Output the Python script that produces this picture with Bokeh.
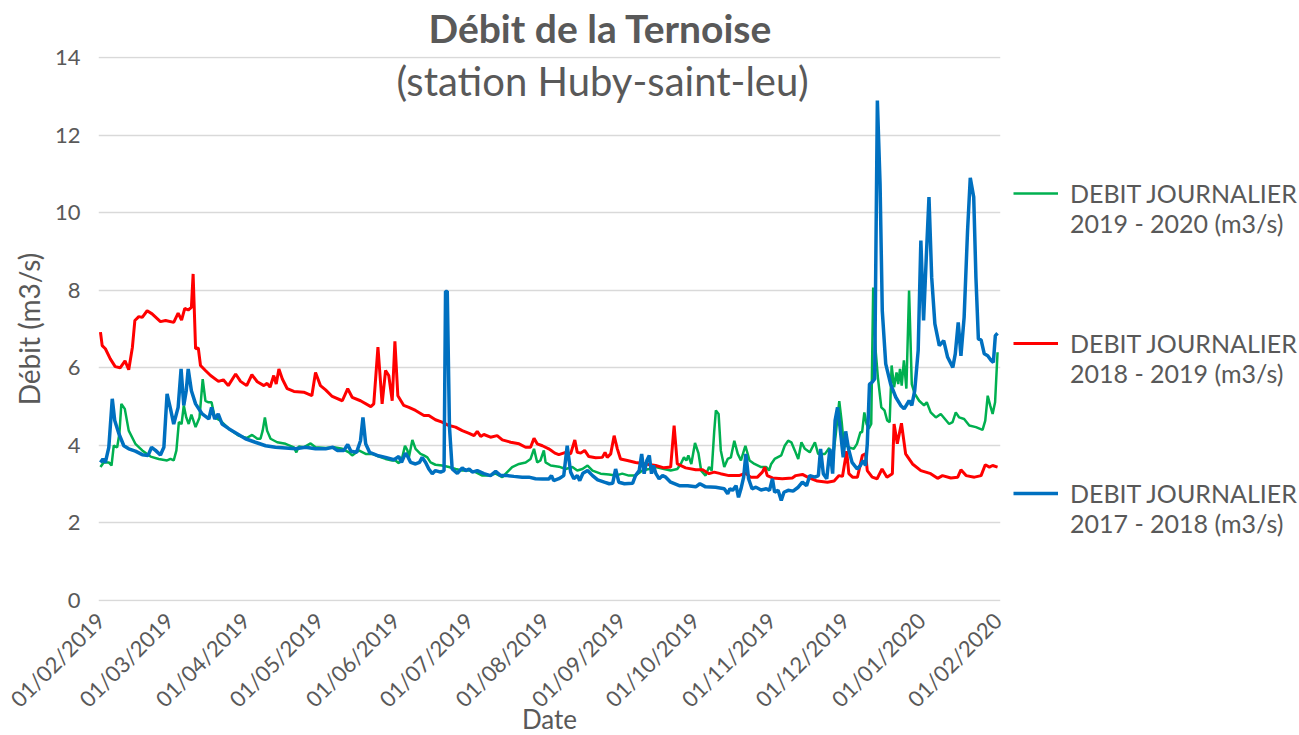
import numpy as np
import pandas as pd
from bokeh.plotting import figure
from bokeh.models import (Range1d, FixedTicker, DatetimeTickFormatter, Label,
                          Legend, LegendItem)
from bokeh.embed import file_html
from bokeh.resources import INLINE

START = pd.Timestamp("2019-02-01")

tick_dates = ["2019-02-01", "2019-03-01", "2019-04-01", "2019-05-01", "2019-06-01",
              "2019-07-01", "2019-08-01", "2019-09-01", "2019-10-01", "2019-11-01",
              "2019-12-01", "2020-01-01", "2020-02-01"]
y_ticks = [0, 2, 4, 6, 8, 10, 12, 14]

# day offsets from 01/02 and flows (m3/s)
red_days = [0, 0.7, 2, 4, 6, 8, 10, 11.5, 13, 14, 15.6, 17, 19, 21, 24.4, 26.5, 29.8, 31.6, 33, 34.3,
            35.7, 37, 37.7, 38.7, 39.8, 40.7, 42.7, 44.8, 48, 50, 52, 55, 57, 59.5, 61.6, 63.8, 66.5,
            67.8, 69, 70.5, 71.5, 72.6, 74, 76, 78.7, 82.7, 86, 87.5, 89.5, 91.6, 94.3, 98.4, 100.6,
            102.4, 105.8, 110, 111.2, 112.9, 114.6, 116, 117.3, 118.7, 119.8, 121, 123.4, 125.5, 128.2,
            131.6, 133.6, 136.3, 139, 141.8, 144.5, 147.2, 150, 152, 153.3, 154.7, 156, 158.7, 161.4,
            163.5, 166.9, 170.3, 173, 175, 176.4, 177.7, 179.8, 182.4, 184.9, 186.5, 189.3, 191.3, 193,
            194, 195.4, 197, 198.7, 201.5, 204.2, 205.3, 206.2, 207.6, 209, 210.3, 211.6, 214.4, 217.7,
            221.8, 225.9, 229.3, 232, 233.4, 234.7, 238.1, 242.2, 245, 247.6, 249.7, 252.3, 255.7,
            259.8, 262.5, 264.5, 267.3, 269.3, 270.3, 271.3, 273.4, 277.4, 281.5, 282.9, 285.6, 288.3,
            291.7, 295.8, 298.5, 300.5, 301.9, 303.6, 304.5, 306, 308, 310, 311.3, 312, 314, 316, 318,
            320, 322.2, 322.9, 324.2, 325.9, 327.6, 330.4, 333.8, 337.8, 340.6, 342.6, 346, 348.8,
            350.1, 352.2, 355.6, 358.3, 360, 361.7, 363, 365]
red_vals = [6.92, 6.57, 6.49, 6.23, 6.03, 6.0, 6.18, 5.95, 6.53, 7.22, 7.32, 7.3, 7.47, 7.39, 7.19,
            7.22, 7.17, 7.41, 7.23, 7.53, 7.49, 7.56, 8.42, 6.49, 6.51, 6.06, 5.93, 5.8, 5.65, 5.69,
            5.54, 5.84, 5.65, 5.54, 5.82, 5.64, 5.54, 5.6, 5.5, 5.8, 5.58, 5.97, 5.71, 5.46, 5.39,
            5.37, 5.28, 5.88, 5.54, 5.43, 5.26, 5.15, 5.46, 5.24, 5.15, 5.0, 5.07, 6.53, 5.07, 5.93,
            5.8, 5.15, 6.68, 5.28, 5.03, 4.98, 4.9, 4.77, 4.77, 4.66, 4.6, 4.51, 4.47, 4.38, 4.31,
            4.25, 4.36, 4.23, 4.28, 4.21, 4.25, 4.14, 4.08, 4.04, 3.95, 3.95, 4.18, 4.04, 3.99, 3.91,
            3.8, 3.76, 3.82, 3.78, 4.14, 3.82, 3.8, 3.87, 3.71, 3.68, 3.69, 3.82, 3.69, 3.78, 4.25,
            3.91, 3.65, 3.61, 3.56, 3.52, 3.48, 3.42, 3.44, 4.51, 3.52, 3.42, 3.37, 3.37, 3.27, 3.31,
            3.27, 3.22, 3.22, 3.28, 3.18, 3.18, 3.31, 3.44, 3.22, 3.16, 3.14, 3.16, 3.22, 3.25, 3.16,
            3.08, 3.05, 3.08, 3.22, 3.2, 3.85, 3.27, 3.18, 3.18, 3.74, 3.78, 3.35, 3.18, 3.14, 3.39,
            3.18, 3.27, 4.55, 4.04, 4.57, 3.78, 3.52, 3.35, 3.27, 3.15, 3.22, 3.16, 3.18, 3.37, 3.22,
            3.18, 3.22, 3.5, 3.44, 3.48, 3.44]

green_days = [0, 1.3, 3.4, 4.5, 5.4, 6.8, 7.7, 8.5, 9.9, 11.5, 14.2, 17, 20.4, 23.7, 27.1, 28.5, 29.8,
              30.9, 31.9, 33, 33.9, 34.9, 35.9, 37, 38.7, 40.3, 41.6, 42.7, 44, 45.2, 46.5, 48.8, 52.2,
              56.3, 59.5, 61.7, 63.8, 65.1, 66, 66.9, 67.8, 69.2, 71.9, 75.3, 78.7, 79.7, 80.7, 82.7,
              85.5, 87.5, 91.6, 95, 98.4, 101.1, 102.4, 105.1, 107.9, 110.6, 113.3, 116, 118.7, 120,
              121.4, 122.8, 123.9, 124.9, 125.5, 126.9, 128.2, 130.2, 131.6, 133, 134.3, 136.3, 139,
              141.8, 144.5, 147.2, 150, 152.6, 155.4, 158, 160.8, 163.5, 165.5, 167.5, 170.3, 173,
              175, 176.4, 177.7, 179, 180.4, 181.1, 183.2, 186.5, 189.3, 192, 194, 196.1, 198.2,
              200.2, 203.5, 206.9, 209.6, 212.3, 215, 217.7, 220.5, 223.2, 225.9, 229.3, 232, 234.7,
              236.1, 237.4, 238.4, 239.2, 240.4, 241.9, 243.3, 244.4, 246.2, 247.6, 248.7, 249.7,
              250.4, 251.5, 252.4, 253.8, 255.2, 256.5, 257.9, 259.3, 260.6, 262.4, 264.1, 266.1,
              268.8, 270.9, 272, 272.9, 274.3, 277, 278.4, 279.8, 281.1, 282.5, 283.9, 285.2, 286.6,
              288.6, 290.7, 292, 294.8, 296.5, 297.9, 299.2, 300.6, 301.6, 302.4, 304.4, 306.5,
              307.8, 309.2, 309.9, 310.8, 311.7, 312.6, 313.6, 314.4, 315.4, 316.3, 317.7, 319,
              320.1, 321.1, 321.9, 322.9, 323.9, 324.6, 325.3, 326, 326.9, 327.9, 329, 330.1, 331.3,
              333.1, 335.1, 336.2, 337.8, 339.9, 341.9, 343.6, 345.3, 346.7, 348, 349.4, 351.4,
              353.5, 356.2, 358.9, 360, 361, 362, 363, 364, 365]
green_vals = [3.44, 3.56, 3.56, 3.48, 3.99, 3.95, 4.3, 5.07, 4.94, 4.38, 4.04, 3.87, 3.71, 3.65, 3.61,
              3.65, 3.61, 3.87, 4.6, 4.55, 5.03, 4.72, 4.55, 4.79, 4.47, 4.72, 5.71, 5.15, 5.11, 5.11,
              4.72, 4.64, 4.43, 4.25, 4.19, 4.27, 4.17, 4.17, 4.38, 4.72, 4.38, 4.17, 4.08, 4.04, 3.95,
              3.82, 3.97, 3.95, 4.05, 3.95, 3.93, 3.95, 3.91, 3.82, 3.74, 3.87, 3.78, 3.78, 3.71, 3.65,
              3.61, 3.61, 3.54, 3.69, 3.99, 3.87, 3.69, 4.14, 3.91, 3.78, 3.74, 3.69, 3.56, 3.5, 3.48,
              3.44, 3.39, 3.35, 3.35, 3.31, 3.22, 3.22, 3.27, 3.18, 3.31, 3.44, 3.52, 3.56, 3.65, 3.91,
              3.56, 3.61, 3.87, 3.56, 3.48, 3.45, 3.39, 3.44, 3.35, 3.39, 3.48, 3.35, 3.27, 3.25, 3.22,
              3.27, 3.22, 3.22, 3.35, 3.39, 3.44, 3.39, 3.35, 3.39, 3.52, 3.69, 3.61, 3.74, 3.52, 4.06,
              3.8, 3.35, 3.22, 3.44, 3.35, 4.34, 4.9, 4.81, 3.87, 3.44, 3.65, 3.69, 4.12, 3.78, 3.61,
              3.99, 3.61, 3.52, 3.44, 3.44, 3.35, 3.52, 3.65, 3.74, 3.99, 4.12, 4.08, 3.87, 3.65, 4.08,
              3.91, 3.82, 4.08, 3.78, 3.78, 3.93, 3.61, 4.3, 5.14, 4.6, 4.04, 3.95, 3.91, 4.04, 4.34,
              4.34, 4.85, 4.55, 4.43, 4.55, 8.07, 6.44, 5.76, 4.98, 4.9, 4.64, 4.6, 6.06, 5.5, 5.88,
              5.58, 5.97, 5.54, 6.19, 5.46, 7.99, 5.58, 5.33, 5.15, 5.03, 5.11, 4.85, 4.72, 4.81,
              4.68, 4.55, 4.6, 4.85, 4.72, 4.68, 4.51, 4.47, 4.4, 4.64, 5.28, 5.03, 4.81, 5.11, 6.4]

blue_days = [0, 1, 2, 3.4, 4.8, 5.8, 7.5, 9.5, 11.5, 14.2, 17, 19.4, 20.8, 22.4, 24.4, 25.8, 27.1,
             28.5, 29.8, 31.6, 32.8, 33.9, 34.9, 35.7, 37, 38.7, 41.4, 44.1, 45.2, 46.5, 47.9, 49.5,
             52.2, 55.6, 59, 63, 67.2, 71.2, 75.3, 79.4, 83.4, 87.5, 91.6, 94.5, 96.3, 99, 100.6,
             101.9, 104.2, 105.8, 106.8, 107.9, 109.5, 112.6, 116, 119.4, 121.4, 122.5, 124.1, 125.2,
             126.2, 128.2, 129.8, 130.9, 132.3, 133.6, 135, 136.3, 138.4, 139.8, 140.4, 141.1, 142,
             143.1, 145.2, 147.2, 148.6, 150, 151.3, 153.3, 156, 158.7, 160.8, 162.8, 165.5, 168.2,
             171.6, 174.3, 177, 179.8, 182.4, 183.5, 184.4, 186.5, 188.5, 189.9, 191.3, 192.6, 194,
             195, 196.3, 198.2, 200.2, 202.3, 205, 207, 208.4, 209.6, 210.9, 213.2, 216.5, 217.7,
             219.2, 220.2, 221.2, 222.3, 223.3, 224.2, 225, 226, 227.3, 228.7, 230, 232, 235.5, 238.9,
             242.2, 243.9, 246.2, 250.3, 253.8, 255.2, 256.1, 257.2, 258.6, 259.6, 260.6, 261.7,
             262.6, 263.7, 265.1, 266.7, 268.8, 270.9, 272.2, 273.4, 274.3, 275.7, 277, 278.1, 279.8,
             281.8, 283.9, 285.6, 287.3, 288.6, 290.7, 292.1, 293, 294.1, 295.5, 296.8, 297.9, 298.9,
             299.9, 300.9, 302.2, 303.2, 304.4, 305.8, 307.9, 309.2, 310.3, 311.3, 312, 312.9, 314,
             315, 316.1, 317.2, 318.1, 319.5, 321.5, 323.6, 325.6, 327, 329, 330.1, 331.3, 332.7,
             333.8, 334.9, 336, 337.1, 338.2, 339.5, 341.3, 343.1, 344.7, 346.8, 347.8, 349, 350.1,
             351.4, 352.8, 353.9, 355.3, 356.2, 357.2, 358.3, 359.6, 361, 362.4, 363.3, 364.1, 365]
blue_vals = [3.56, 3.65, 3.56, 3.95, 5.2, 4.64, 4.3, 3.99, 3.91, 3.85, 3.76, 3.74, 3.95, 3.87, 3.75,
             3.95, 5.33, 4.94, 4.55, 4.98, 5.97, 5.03, 5.41, 5.97, 5.41, 5.07, 4.81, 4.68, 4.98, 4.68,
             4.81, 4.55, 4.43, 4.3, 4.17, 4.08, 3.99, 3.95, 3.93, 3.91, 3.95, 3.91, 3.91, 3.95, 3.87,
             3.87, 4.02, 3.85, 3.82, 4.12, 4.72, 4.04, 3.82, 3.74, 3.69, 3.63, 3.71, 3.56, 3.8, 3.69,
             3.56, 3.52, 3.56, 3.69, 3.56, 3.39, 3.27, 3.35, 3.31, 3.35, 7.97, 7.97, 4.47, 3.39, 3.28,
             3.42, 3.35, 3.39, 3.31, 3.35, 3.27, 3.22, 3.33, 3.22, 3.22, 3.2, 3.18, 3.18, 3.14, 3.13,
             3.13, 3.22, 3.09, 3.14, 3.22, 3.99, 3.31, 3.14, 3.22, 3.09, 3.28, 3.35, 3.22, 3.11, 3.05,
             3.01, 3.02, 3.39, 3.05, 3.01, 3.02, 3.22, 3.35, 3.78, 3.27, 3.61, 3.74, 3.27, 3.48, 3.27,
             3.14, 3.22, 3.18, 3.05, 2.96, 2.96, 2.93, 3.01, 2.93, 2.92, 2.88, 2.75, 2.88, 2.84, 2.96,
             2.66, 2.88, 3.18, 3.78, 3.14, 2.88, 2.92, 2.85, 2.88, 2.84, 3.14, 2.79, 2.84, 2.58, 2.79,
             2.84, 2.82, 2.92, 3.05, 2.96, 3.22, 3.18, 3.22, 3.91, 3.27, 3.14, 3.91, 3.27, 4.64, 4.98,
             4.47, 3.69, 4.36, 3.9, 3.56, 3.39, 3.48, 3.61, 3.48, 4.04, 5.58, 5.63, 5.71, 12.89, 10.74,
             7.47, 6.1, 5.58, 5.24, 5.03, 4.94, 5.15, 5.03, 5.41, 6.44, 9.28, 7.22, 8.85, 10.4, 8.33,
             7.13, 6.57, 6.7, 6.27, 6.01, 6.36, 7.17, 6.31, 7.3, 9.54, 10.9, 10.4, 8.33, 6.74, 6.72,
             6.36, 6.31, 6.19, 6.14, 6.83, 6.89]

series_labels = ["\nDEBIT JOURNALIER\n2019 - 2020 (m3/s)",
                 "\nDEBIT JOURNALIER\n2018 - 2019 (m3/s)",
                 "\nDEBIT JOURNALIER\n2017 - 2018 (m3/s)"]


def to_dates(days):
    return START + pd.to_timedelta(np.array(days, dtype=float), unit="D")


FONT = "Lato"
GREY = "#595959"

p = figure(frame_width=902, frame_height=545, x_axis_type="datetime", output_backend="svg",
           toolbar_location=None,
           x_range=Range1d(START - pd.Timedelta(days=0.8), START + pd.Timedelta(days=366.2)),
           y_range=Range1d(-0.026, 14.026),
           min_border_left=98, min_border_right=297, min_border_top=56, min_border_bottom=134)
p.outline_line_color = None
p.background_fill_color = "white"
p.border_fill_color = "white"

p.title.text = "Débit de la Ternoise"
p.title.align = "left"
p.title.offset = 330
p.title.vertical_align = "top"
p.title.standoff = 8
p.title.text_font = FONT
p.title.text_font_style = "bold"
p.title.text_font_size = "39px"
p.title.text_color = GREY

r_green = p.line(to_dates(green_days), green_vals, line_color="#00B050", line_width=2.5)
r_red = p.line(to_dates(red_days), red_vals, line_color="#FF0000", line_width=3)
r_blue = p.line(to_dates(blue_days), blue_vals, line_color="#0070C0", line_width=3.5)

# axes
tick_ms = [pd.Timestamp(d).value // 10**6 for d in tick_dates]
p.xaxis.ticker = FixedTicker(ticks=tick_ms)
fmt = "%d/%m/%Y"
p.xaxis.formatter = DatetimeTickFormatter(microseconds=fmt, milliseconds=fmt, seconds=fmt,
                                          minsec=fmt, minutes=fmt, hourmin=fmt, hours=fmt,
                                          days=fmt, months=fmt, years=fmt)
p.xaxis.major_label_orientation = np.pi / 4
p.yaxis.ticker = FixedTicker(ticks=y_ticks)

for ax in (p.xaxis[0], p.yaxis[0]):
    ax.axis_line_color = None
    ax.major_tick_line_color = None
    ax.minor_tick_line_color = None
    ax.major_tick_out = 0
    ax.major_tick_in = 0
    ax.major_label_text_font = FONT
    ax.major_label_text_font_size = "22px"
    ax.major_label_text_color = GREY
    ax.axis_label_text_font = FONT
    ax.axis_label_text_font_style = "normal"
    ax.axis_label_text_color = GREY

p.yaxis.axis_label = "Débit (m3/s)"
p.yaxis.axis_label_text_font_size = "28px"
p.xaxis.axis_label = "Date"
p.xaxis.axis_label_text_font_size = "26px"
p.xaxis.major_label_standoff = 15
p.xaxis.axis_label_standoff = -22
p.yaxis.major_label_standoff = 18
p.yaxis.axis_label_standoff = 6

p.xgrid.grid_line_color = None
p.ygrid.grid_line_color = "#D9D9D9"
p.ygrid.grid_line_width = 1.5

# subtitle inside the plot area (frame-relative screen units)
p.add_layout(Label(x=504, y=521, x_units="screen", y_units="screen",
                   text="(station Huby-saint-leu)", text_align="center", text_baseline="middle",
                   text_font=FONT, text_font_size="40px", text_color=GREY))

legend = Legend(items=[LegendItem(label=series_labels[0], renderers=[r_green]),
                       LegendItem(label=series_labels[1], renderers=[r_red]),
                       LegendItem(label=series_labels[2], renderers=[r_blue])],
                location=(13, 63), orientation="vertical", spacing=60,
                glyph_width=45, glyph_height=20, label_standoff=12, padding=0, margin=0,
                border_line_color=None, background_fill_alpha=0,
                label_text_font=FONT, label_text_font_size="25px",
                label_text_color=GREY, label_text_line_height=1.72)
p.add_layout(legend, "right")

open("out.html", "w").write(file_html(p, INLINE))
